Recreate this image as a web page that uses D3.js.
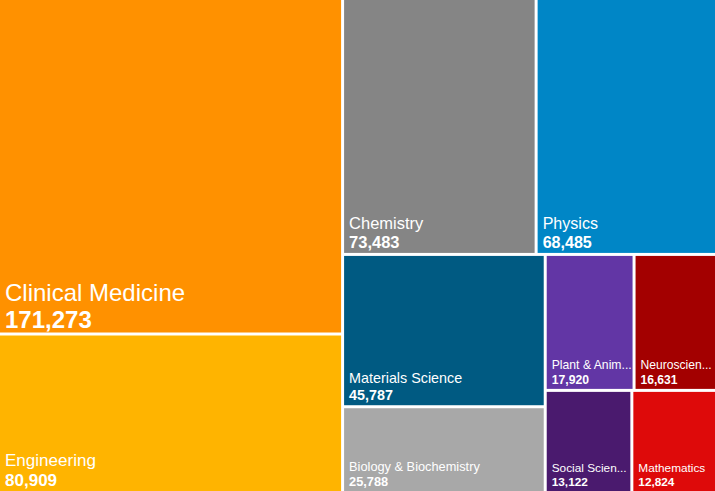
<!DOCTYPE html>
<html>
<head>
<meta charset="utf-8">
<script src="https://cdn.jsdelivr.net/npm/d3@7"></script>
<style>
  html, body { margin: 0; padding: 0; background: #ffffff; }
  svg { display: block; }
  text { font-family: "Liberation Sans", Arial, sans-serif; fill: #ffffff; }
</style>
</head>
<body>
<svg id="chart" width="715" height="491"></svg>
<script>
const categories = ["Clinical Medicine", "Engineering", "Chemistry", "Physics", "Materials Science",
  "Biology & Biochemistry", "Plant & Animal Science", "Neuroscience & Behavior",
  "Social Sciences, General", "Mathematics"];
const values = [171273, 80909, 73483, 68485, 45787, 25788, 17920, 16631, 13122, 12824];
const colors = ["#ff9100", "#ffb400", "#858585", "#0086c6", "#005a82",
  "#a8a8a8", "#6236a5", "#a30000", "#4a1a6e", "#de0a0a"];

const W = 715, H = 491;
const svg = d3.select("#chart");

const root = d3.hierarchy({children: categories.map((c, i) => ({name: c, value: values[i], color: colors[i]}))})
  .sum(d => d.value || 0)
  .sort((a, b) => b.value - a.value);

d3.treemap().size([W, H]).tile(d3.treemapSquarify).paddingInner(3).round(false)(root);

const fontScale = d3.scaleLinear().domain([12824, 171273]).range([11.8, 24]);
const fmt = d3.format(",");

const cell = svg.selectAll("g.cell").data(root.leaves()).join("g").attr("class", "cell");

cell.append("rect")
  .attr("x", d => d.x0).attr("y", d => d.y0)
  .attr("width", d => d.x1 - d.x0).attr("height", d => d.y1 - d.y0)
  .attr("fill", d => d.data.color);

cell.each(function(d) {
  const g = d3.select(this);
  const fs = fontScale(d.value);
  const vy = d.y1 - 5;
  const ny = vy - (fs + 2.5);
  const maxW = (d.x1 - d.x0) - 4.5;
  const nameText = g.append("text")
    .attr("x", d.x0 + 5).attr("y", ny)
    .style("font-size", fs + "px")
    .text(d.data.name);
  const full = d.data.name;
  if (nameText.node().getComputedTextLength() > maxW) {
    let s = full;
    while (s.length > 1) {
      s = s.slice(0, -1);
      nameText.text(s.trimEnd() + "...");
      if (nameText.node().getComputedTextLength() <= maxW) break;
    }
  }
  g.append("text")
    .attr("x", d.x0 + 5).attr("y", vy)
    .style("font-size", fs + "px")
    .style("font-weight", "bold")
    .text(fmt(d.value));
});
</script>
</body>
</html>
